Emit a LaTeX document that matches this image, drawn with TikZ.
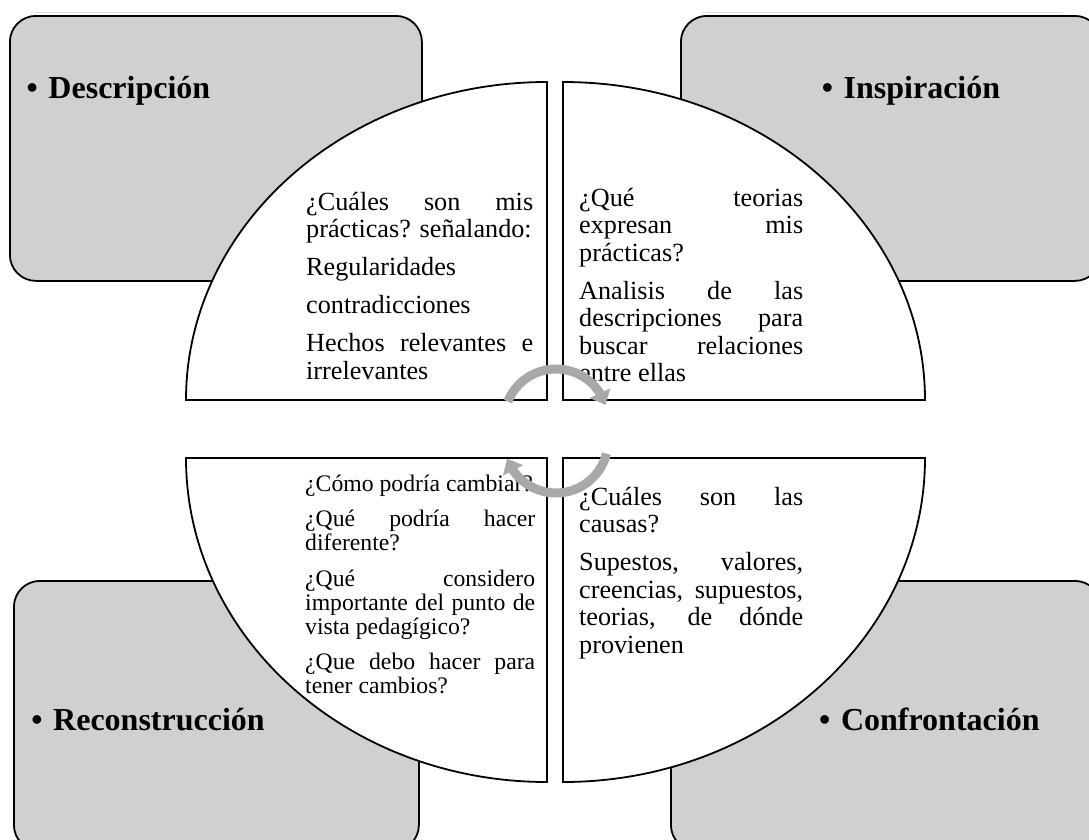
\documentclass[tikz,border=0pt]{standalone}
\usepackage{fontspec}
\setmainfont{Liberation Serif}
\usetikzlibrary{arrows.meta,bending}

\definecolor{stagefill}{RGB}{208,208,208}
\definecolor{cyclegray}{RGB}{168,168,168}
\definecolor{edgeglow}{RGB}{222,222,222}

% natural word spacing, no hyphenation inside the quarter texts
\newcommand\plainspacing{\spaceskip=0pt\xspaceskip=0pt\hyphenpenalty=10000\exhyphenpenalty=10000\relax}
% a fully justified line of the given words
\newcommand\jl[1]{\makebox[\linewidth][s]{\spaceskip=0pt\xspaceskip=0pt\relax#1}}

\begin{document}
\begin{tikzpicture}[x=1pt,y=-1pt,
  stagebox/.style={rectangle, draw=black, line width=1.8pt, fill=stagefill,
    rounded corners=26pt, inner sep=0pt, anchor=north west},
  quarter/.style={draw=black, line width=1.8pt, fill=white, line join=miter},
  heading/.style={anchor=base west, inner sep=0pt,
    font=\fontsize{32}{36}\selectfont\bfseries},
  bodytext/.style={anchor=base west, inner sep=0pt, align=left, text width=#1,
    font=\fontsize{26.2}{27.5}\selectfont},
  smalltext/.style={anchor=base west, inner sep=0pt, align=left, text width=#1,
    font=\fontsize{23.7}{24}\selectfont},
  cyclearrow/.style={draw=cyclegray, line width=9pt,
    -{Triangle[width=22pt,length=13pt]}},
  glow/.style={draw=edgeglow, line width=1.4pt}
]
\useasboundingbox (0,0) rectangle (1089,839);

% corner stages
\node[stagebox, minimum width=412pt, minimum height=265pt] (descBox) at (9,15) {};
\node[stagebox, minimum width=420pt, minimum height=265pt] (inspBox) at (680,15) {};
\node[stagebox, minimum width=405pt, minimum height=270pt] (recoBox) at (13,580) {};
\node[stagebox, minimum width=430pt, minimum height=270pt] (confBox) at (670,580) {};

% faint highlight above the upper stages
\draw[glow] (35,12.5) -- (395,12.5);
\draw[glow] (706,12.5) -- (1062,12.5);

% stage titles
\node[heading] (descTitle) at (26.5,98) {\textbullet\hspace{10.6pt}Descripción};
\node[heading] (inspTitle) at (821.7,98) {\textbullet\hspace{10.6pt}Inspiración};
\node[heading] (recoTitle) at (31.2,730) {\textbullet\hspace{10.6pt}Reconstrucción};
\node[heading] (confTitle) at (819,730) {\textbullet\hspace{10.6pt}Confrontación};

% the four quarters of the central disc
\coordinate (hubNW) at (547,400);
\coordinate (hubNE) at (563,400);
\coordinate (hubSW) at (547,458);
\coordinate (hubSE) at (563,458);
\path[quarter] (hubNW) -- (186,400)
  arc[start angle=180, end angle=90, x radius=361pt, y radius=318pt] -- cycle;
\path[quarter] (hubNE) -- (563,82)
  arc[start angle=90, end angle=0, x radius=362pt, y radius=318pt] -- cycle;
\path[quarter] (hubSW) -- (547,782)
  arc[start angle=270, end angle=180, x radius=361pt, y radius=324pt] -- cycle;
\path[quarter] (hubSE) -- (925,458)
  arc[start angle=0, end angle=-90, x radius=362pt, y radius=324pt] -- cycle;

% quarter texts
\node[bodytext=227pt] (descText) at (306,210) {\plainspacing
  \jl{¿Cuáles son mis}\\
  prácticas? señalando:\\[10.5pt]
  Regularidades\\[10.5pt]
  contradicciones\\[10.5pt]
  \jl{Hechos relevantes e}\\
  irrelevantes};

\node[bodytext=224pt] (inspText) at (579,206) {\plainspacing
  \jl{¿Qué teorias}\\
  \jl{expresan mis}\\
  prácticas?\\[10.5pt]
  \jl{Analisis de las}\\
  \jl{descripciones para}\\
  \jl{buscar relaciones}\\
  entre ellas};

\node[smalltext=230pt] (recoText) at (305,491) {\plainspacing
  ¿Cómo podría cambiar?\\[11.5pt]
  \jl{¿Qué podría hacer}\\
  diferente?\\[11.5pt]
  \jl{¿Qué considero}\\
  \jl{importante del punto de}\\
  vista pedagígico?\\[11.5pt]
  \jl{¿Que debo hacer para}\\
  tener cambios?};

\node[bodytext=224pt] (confText) at (579,505) {\plainspacing
  \jl{¿Cuáles son las}\\
  causas?\\[10.5pt]
  \jl{Supestos, valores,}\\
  \jl{creencias, supuestos,}\\
  \jl{teorias, de dónde}\\
  provienen};

% cycle arrows in the middle
\coordinate (upperHub) at (556,421);
\coordinate (lowerHub) at (556,441);
\draw[cyclearrow] (upperHub) ++(158:52pt)
  arc[start angle=158, end angle=18, radius=52pt];
\draw[cyclearrow] (lowerHub) ++(-14:52pt)
  arc[start angle=-14, end angle=-160, radius=52pt];
\end{tikzpicture}
\end{document}
